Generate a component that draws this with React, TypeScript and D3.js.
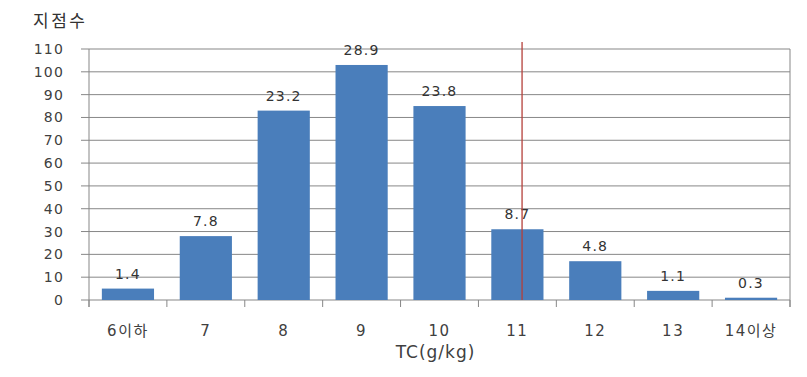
import React from "react";
import * as d3 from "d3";

const categories = ["6이하", "7", "8", "9", "10", "11", "12", "13", "14이상"];
const counts = [5, 28, 83, 103, 85, 31, 17, 4, 1];
const percents = ["1.4", "7.8", "23.2", "28.9", "23.8", "8.7", "4.8", "1.1", "0.3"];
const yTicks = [0, 10, 20, 30, 40, 50, 60, 70, 80, 90, 100, 110];
const refLinePos = 5.56; // position in category units along the x axis
const yTitle = "지점수";
const xTitle = "TC(g/kg)";

const W = 807, H = 377;
const M = { left: 89, right: 790, top: 49, bottom: 300 };
const FONT = "'DejaVu Sans', 'Noto Sans CJK KR', sans-serif";

export default function App() {
  const x = d3.scaleBand<string>().domain(categories).range([M.left, M.right]).paddingInner(0.33).paddingOuter(0.165);
  const xl = d3.scaleLinear().domain([0, categories.length]).range([M.left, M.right]);
  const y = d3.scaleLinear().domain([0, 110]).range([M.bottom, M.top]);
  const grid = "#878787";
  return (
    <svg width={W} height={H} style={{ position: "absolute", left: 0, top: 0, background: "#fff" }} fontFamily={FONT}>
      <text x={33} y={27} fontSize={17} letterSpacing={2.5} fill="#333">{yTitle}</text>
      {yTicks.map((t) => (
        <g key={t}>
          <line x1={M.left - 8} x2={M.right} y1={y(t)} y2={y(t)} stroke={grid} strokeWidth={1} />
          <text x={64} y={y(t) + 5} fontSize={14} letterSpacing={1.2} textAnchor="end" fill="#404040">{t}</text>
        </g>
      ))}
      <line x1={M.left} x2={M.left} y1={M.top} y2={M.bottom + 7} stroke={grid} />
      <line x1={M.right} x2={M.right} y1={M.top} y2={M.bottom + 7} stroke={grid} />
      {d3.range(categories.length + 1).map((i) => (
        <line key={i} x1={xl(i)} x2={xl(i)} y1={M.bottom} y2={M.bottom + 7} stroke={grid} />
      ))}
      {categories.map((c, i) => (
        <g key={c}>
          <rect x={x(c)} y={y(counts[i])} width={x.bandwidth()} height={M.bottom - y(counts[i])} fill="#4a7ebb" />
          <text x={(x(c) as number) + x.bandwidth() / 2} y={y(counts[i]) - 10} fontSize={14} letterSpacing={1.2} textAnchor="middle" fill="#333">{percents[i]}</text>
          <text x={(x(c) as number) + x.bandwidth() / 2} y={336} fontSize={15} letterSpacing={1.5} textAnchor="middle" fill="#404040">{c}</text>
        </g>
      ))}
      <line x1={xl(refLinePos)} x2={xl(refLinePos)} y1={M.top - 7} y2={M.bottom} stroke="#b5403a" strokeWidth={1.3} />
      <text x={(M.left + M.right) / 2 - 4} y={358} fontSize={17} letterSpacing={1} textAnchor="middle" fill="#404040">{xTitle}</text>
    </svg>
  );
}
